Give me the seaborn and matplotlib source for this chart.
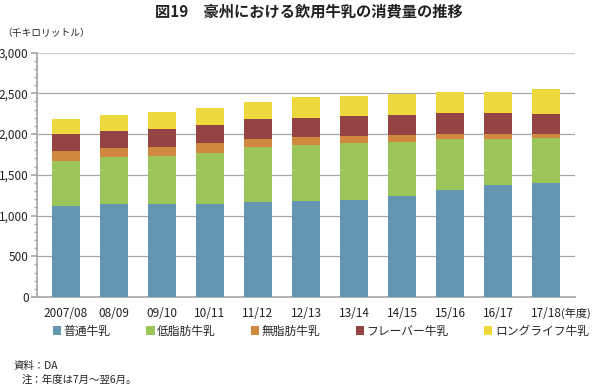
import pandas as pd
import matplotlib
matplotlib.use('Agg')
import matplotlib.pyplot as plt
import seaborn as sns
import numpy as np
from matplotlib.ticker import MultipleLocator, FuncFormatter
from matplotlib.patches import Patch

# データ（千キロリットル）
years = ['2007/08', '08/09', '09/10', '10/11', '11/12', '12/13',
         '13/14', '14/15', '15/16', '16/17', '17/18']
futsu = [1117, 1141, 1141, 1141, 1162, 1174, 1194, 1239, 1313, 1370, 1402]
teishibo = [555, 573, 589, 630, 682, 687, 696, 667, 622, 573, 549]
mushibo = [119, 110, 114, 115, 99, 102, 85, 85, 69, 61, 53]
flavor = [209, 209, 213, 221, 237, 237, 242, 242, 254, 250, 241]
longlife = [188, 200, 213, 208, 217, 250, 253, 258, 261, 257, 307]

series_names = ['普通牛乳', '低脂肪牛乳', '無脂肪牛乳', 'フレーバー牛乳', 'ロングライフ牛乳']
colors = ['#6496B1', '#9DC65A', '#D0883F', '#954444', '#EDD93E']

sns.set_theme(style='white')
plt.rcParams['font.family'] = ['Noto Sans CJK JP', 'DejaVu Sans']

fig = plt.figure(figsize=(6, 3.87), dpi=100)
ax = fig.add_axes([37 / 600, 1 - 297 / 387, (575 - 37) / 600, (297 - 52.5) / 387])

# 積み上げ棒グラフ
bottom = np.zeros(len(years))
for name, vals, c in zip(series_names, [futsu, teishibo, mushibo, flavor, longlife], colors):
    df = pd.DataFrame({'年度': years, '値': vals})
    sns.barplot(data=df, x='年度', y='値', color=c, bottom=bottom, width=0.57,
                saturation=1, ax=ax, zorder=3, linewidth=0)
    bottom = bottom + np.array(vals)

ax.set_ylim(0, 3000)
ax.set_xlim(-0.6, len(years) - 0.4)
ax.yaxis.set_major_locator(MultipleLocator(500))
ax.yaxis.set_minor_locator(MultipleLocator(100))
ax.yaxis.set_major_formatter(FuncFormatter(lambda v, p: f'{int(v):,}'))
ax.grid(axis='y', color='#a8a8a8', linewidth=0.9, zorder=0)
ax.set_xlabel('')
ax.set_ylabel('')
for s in ['right', 'top']:
    ax.spines[s].set_visible(False)
ax.spines['left'].set_color('#a8a8a8')
ax.spines['bottom'].set_color('#a8a8a8')
ax.tick_params(axis='y', which='both', left=True, direction='out', color='#a8a8a8',
               labelsize=8.5, labelcolor='#222222', pad=2)
ax.tick_params(axis='y', which='major', length=4)
ax.tick_params(axis='y', which='minor', length=2)
ax.tick_params(axis='x', length=0, labelsize=8.5, labelcolor='#222222', pad=7)
ax.axhline(3000, color='#d4d4d4', linewidth=1.2, zorder=1)

fig.text(309 / 600, 1 - 12 / 387, '図19　豪州における飲用牛乳の消費量の推移', ha='center', va='center',
         fontsize=11, fontweight='bold', color='#222222')
fig.text(2 / 600, 1 - 33 / 387, '（千キロリットル）', ha='left', va='center', fontsize=7, color='#222222')
fig.text(561 / 600, 1 - 313 / 387, '(年度)', ha='left', va='center', fontsize=8, color='#222222')

handles = [Patch(facecolor=c, edgecolor='none') for c in colors]
fig.legend(handles, series_names, loc='center', bbox_to_anchor=(321 / 600, 1 - 331 / 387), ncol=5,
           frameon=False, fontsize=8.5, handlelength=0.7, handleheight=0.7, handletextpad=0.2,
           columnspacing=3.0)

fig.text(14 / 600, 1 - 366 / 387, '資料：DA', ha='left', va='center', fontsize=7.5, color='#222222')
fig.text(22 / 600, 1 - 380 / 387, '注：年度は7月～翌6月。', ha='left', va='center', fontsize=7.5, color='#222222')

fig.savefig('out.png', dpi=100)
